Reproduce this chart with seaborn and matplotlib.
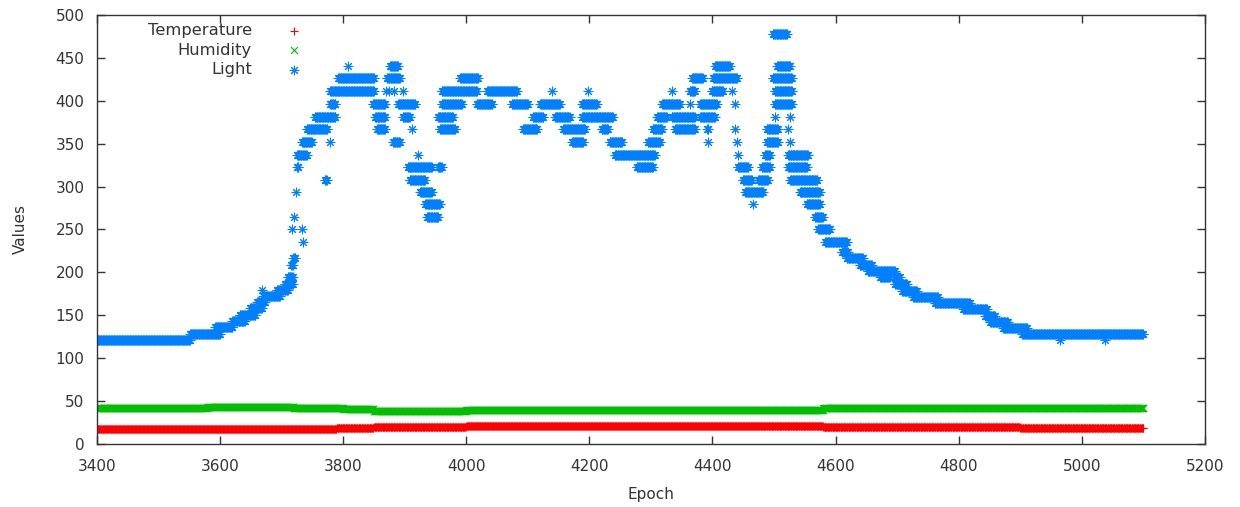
## for data
import numpy as np
import pandas as pd

## for plotting
import matplotlib
matplotlib.use("Agg")
import matplotlib.pyplot as plt
import seaborn as sns


###############################################################################
## readings as runs of constant value: first epoch, last epoch, value
###############################################################################

temp_from = [3400, 3790, 3850, 4000, 4200, 4580, 4900]
temp_to = [3789, 3849, 3999, 4199, 4579, 4899, 5100]
temp_value = [17.5, 18.5, 19.5, 20.5, 21.0, 19.5, 18.5]

hum_from = [3400, 3580, 3720, 3800, 3850, 4000, 4580]
hum_to = [3579, 3719, 3799, 3849, 3999, 4579, 5100]
hum_value = [42.0, 43.0, 42.0, 40.5, 39.0, 39.5, 41.5]

light_from = [3400, 3551, 3592, 3620, 3632, 3649, 3660, 3668, 3670, 3692,
              3705, 3710, 3716, 3719, 3717, 3733, 3734, 3720, 3723, 3725,
              3725, 3733, 3779, 3741, 3770, 3754, 3779, 3779, 3792, 3808,
              3876, 3871, 3869, 3875, 3883, 3897, 3848, 3889, 3852, 3897,
              3855, 3912, 3881, 3921, 3905, 3908, 3925, 3933, 3936, 3954,
              3954, 3957, 3960, 3960, 3990, 4034, 4139, 4198, 4017, 4074,
              4120, 4188, 4108, 4144, 4188, 4092, 4157, 4220, 4172, 4233,
              4241, 4277, 4295, 4303, 4310, 4318, 4334, 4339, 4391, 4436,
              4334, 4380, 4393, 4440, 4363, 4380, 4436, 4363, 4399, 4432,
              4367, 4401, 4404, 4441, 4441, 4449, 4474, 4453, 4466, 4480,
              4485, 4488, 4488, 4501, 4501, 4501, 4498, 4505, 4498, 4526,
              4523, 4526, 4523, 4523, 4526, 4542, 4553, 4566, 4571, 4583,
              4610, 4618, 4639, 4652, 4672, 4696, 4696, 4708, 4726, 4761,
              4807, 4843, 4851, 4872, 4903, 4964, 5037]
light_to = [3551, 3600, 3620, 3640, 3657, 3668, 3673, 3668, 3697, 3710,
            3718, 3718, 3718, 3722, 3717, 3733, 3734, 3720, 3723, 3727,
            3741, 3749, 3779, 3774, 3773, 3787, 3787, 3850, 3850, 3808,
            3889, 3892, 3869, 3875, 3883, 3897, 3868, 3917, 3868, 3908,
            3868, 3912, 3892, 3921, 3944, 3933, 3944, 3957, 3954, 3960,
            3978, 3982, 3993, 4017, 4019, 4082, 4139, 4198, 4042, 4100,
            4152, 4212, 4125, 4168, 4238, 4115, 4193, 4230, 4190, 4253,
            4306, 4303, 4315, 4318, 4326, 4347, 4334, 4371, 4393, 4436,
            4371, 4404, 4393, 4440, 4363, 4407, 4436, 4371, 4417, 4432,
            4384, 4440, 4428, 4441, 4458, 4464, 4490, 4482, 4466, 4493,
            4493, 4506, 4506, 4501, 4529, 4529, 4529, 4526, 4521, 4526,
            4523, 4526, 4555, 4553, 4570, 4574, 4574, 4579, 4591, 4618,
            4620, 4644, 4659, 4696, 4688, 4704, 4716, 4732, 4766, 4818,
            4846, 4859, 4880, 4911, 5100, 4964, 5037]
light_value = [121, 128, 136, 143, 150, 158, 165, 180, 172, 180,
               187, 195, 209, 217, 250, 250, 235, 265, 294, 323,
               337, 352, 352, 367, 308, 381, 396, 411, 426, 440,
               440, 426, 411, 411, 411, 411, 396, 396, 381, 381,
               367, 367, 352, 337, 323, 308, 294, 280, 265, 323,
               381, 367, 396, 411, 426, 411, 411, 411, 396, 396,
               396, 396, 381, 381, 381, 367, 367, 367, 352, 352,
               337, 323, 352, 367, 381, 396, 411, 367, 367, 367,
               381, 381, 352, 352, 396, 396, 396, 411, 411, 411,
               426, 426, 440, 337, 323, 308, 308, 294, 280, 323,
               337, 352, 367, 381, 396, 411, 426, 440, 478, 381,
               367, 352, 337, 323, 308, 294, 280, 265, 250, 235,
               224, 217, 209, 202, 195, 195, 187, 178, 171, 164,
               157, 149, 142, 135, 128, 121, 121]


def expand(starts, ends, values):
    # one reading per epoch inside each run
    epochs, vals = [], []
    for a, b, v in zip(starts, ends, values):
        ep = np.arange(a, b + 1)
        epochs.append(ep)
        vals.append(np.full(len(ep), v, dtype=float))
    return pd.DataFrame({"Epoch": np.concatenate(epochs),
                         "Value": np.concatenate(vals)})


temp_df = expand(temp_from, temp_to, temp_value)
hum_df = expand(hum_from, hum_to, hum_value)
light_df = expand(light_from, light_to, light_value)

###############################################################################

sns.set_style("ticks")
plt.rcParams["font.family"] = ["DejaVu Sans"]
text_col = "#333333"

fig = plt.figure(figsize=(12.4, 5.07), dpi=100)
ax = fig.add_axes([0.0782, 0.1243, 0.8935, 0.8461])

sns.scatterplot(data=temp_df, x="Epoch", y="Value", marker="+", color="#ff0000",
                s=36, linewidth=0.8, label="Temperature", ax=ax)
sns.scatterplot(data=hum_df, x="Epoch", y="Value", marker="x", color="#00c000",
                s=26, linewidth=0.8, label="Humidity", ax=ax)
sns.scatterplot(data=light_df, x="Epoch", y="Value", marker=(8, 2, 0), color="#0080ff",
                s=40, linewidth=0.75, label="Light", ax=ax)

ax.set_xlim(3400, 5200)
ax.set_ylim(0, 500)
ax.set_xticks(np.arange(3400, 5201, 200))
ax.set_yticks(np.arange(0, 501, 50))
ax.set_xlabel("Epoch", fontsize=11, color=text_col, labelpad=9)
ax.set_ylabel("Values", fontsize=11, color=text_col, labelpad=20)
ax.tick_params(direction="in", top=True, right=True, length=6, width=1,
               color="#333333", labelcolor=text_col, labelsize=11)
ax.tick_params(axis="x", pad=11)
ax.tick_params(axis="y", pad=9)
for sp in ax.spines.values():
    sp.set_color("#333333")
    sp.set_linewidth(1)

handles, labels = ax.get_legend_handles_labels()
ax.legend(handles, labels, loc="upper left", bbox_to_anchor=(0.046, 0.981),
          frameon=False, markerfirst=False, scatterpoints=1, handlelength=2,
          handletextpad=1.55, labelspacing=0.28, borderpad=0, borderaxespad=0,
          fontsize=11.8, labelcolor=text_col)

plt.savefig("out.png", dpi=100)
